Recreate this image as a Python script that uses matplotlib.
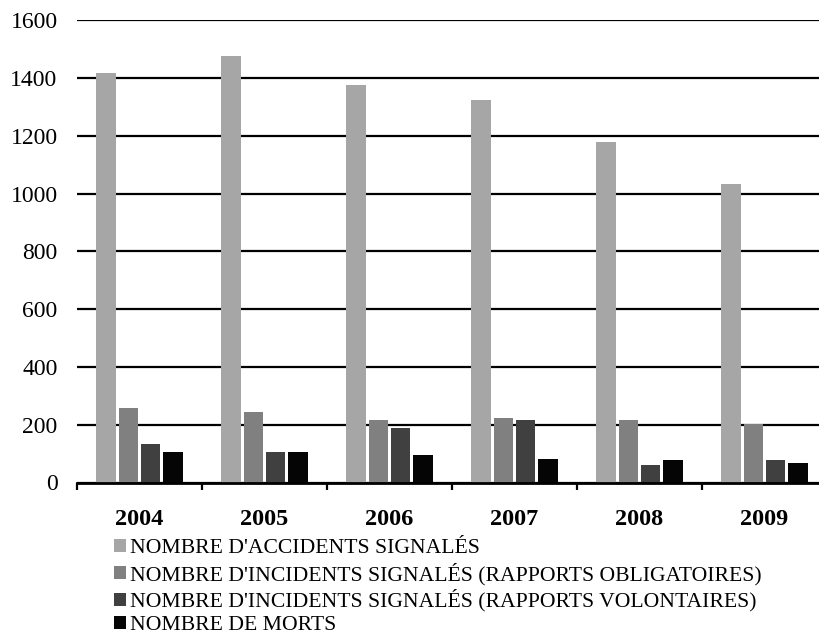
import matplotlib
matplotlib.use("Agg")
import matplotlib.pyplot as plt
import numpy as np

years = ["2004", "2005", "2006", "2007", "2008", "2009"]
series_names = [
    "NOMBRE D'ACCIDENTS SIGNALÉS",
    "NOMBRE D'INCIDENTS SIGNALÉS (RAPPORTS OBLIGATOIRES)",
    "NOMBRE D'INCIDENTS SIGNALÉS (RAPPORTS VOLONTAIRES)",
    "NOMBRE DE MORTS",
]
accidents = [1416, 1477, 1374, 1324, 1178, 1033]
incidents_obligatoires = [257, 243, 215, 222, 215, 203]
incidents_volontaires = [132, 105, 187, 215, 62, 78]
morts = [104, 105, 96, 83, 78, 69]
y_ticks = [0, 200, 400, 600, 800, 1000, 1200, 1400, 1600]

colors = ["#a6a6a6", "#808080", "#404040", "#050505"]
all_series = [accidents, incidents_obligatoires, incidents_volontaires, morts]

plt.rcParams["font.family"] = ["Liberation Serif", "DejaVu Serif"]

fig = plt.figure(figsize=(8.2, 6.37), dpi=100)
ax = fig.add_axes([77 / 820, 154.5 / 637, 750 / 820, 462.4 / 637])

x = np.arange(len(years))
step = 0.178
width = 0.156
handles = []
for i, (vals, col, name) in enumerate(zip(all_series, colors, series_names)):
    h = ax.bar(x + (i - 1.5) * step, vals, width=width, color=col,
               label=name, zorder=3)
    handles.append(h)

ax.set_xlim(-0.5, len(years) - 0.5)
ax.set_ylim(0, 1600)
ax.set_yticks(y_ticks)
ax.set_yticklabels([str(v) for v in y_ticks], fontsize=17)
ax.yaxis.grid(True, color="black", linewidth=1.6, zorder=1)
ax.set_axisbelow(True)
ax.tick_params(axis="y", length=0, pad=14)

ax.set_xticks(x)
ax.set_xticklabels(years, fontsize=17.5, fontweight="bold")
ax.tick_params(axis="x", which="major", length=0, pad=19)
ax.set_xticks(np.arange(-0.5, len(years), 1.0), minor=True)
ax.tick_params(axis="x", which="minor", length=5, width=1.6, color="black",
               direction="out")

for side in ["left", "right", "top"]:
    ax.spines[side].set_visible(False)
ax.spines["bottom"].set_linewidth(2)
ax.spines["bottom"].set_zorder(4)

fig.legend(handles=handles, labels=series_names, loc="upper left",
           bbox_to_anchor=(114 / 820, 1 - 539 / 637), frameon=False,
           fontsize=15.6, handlelength=0.55, handleheight=0.55,
           handletextpad=0.2, labelspacing=0.2, borderpad=0,
           borderaxespad=0)

fig.savefig("out.png", dpi=100)
